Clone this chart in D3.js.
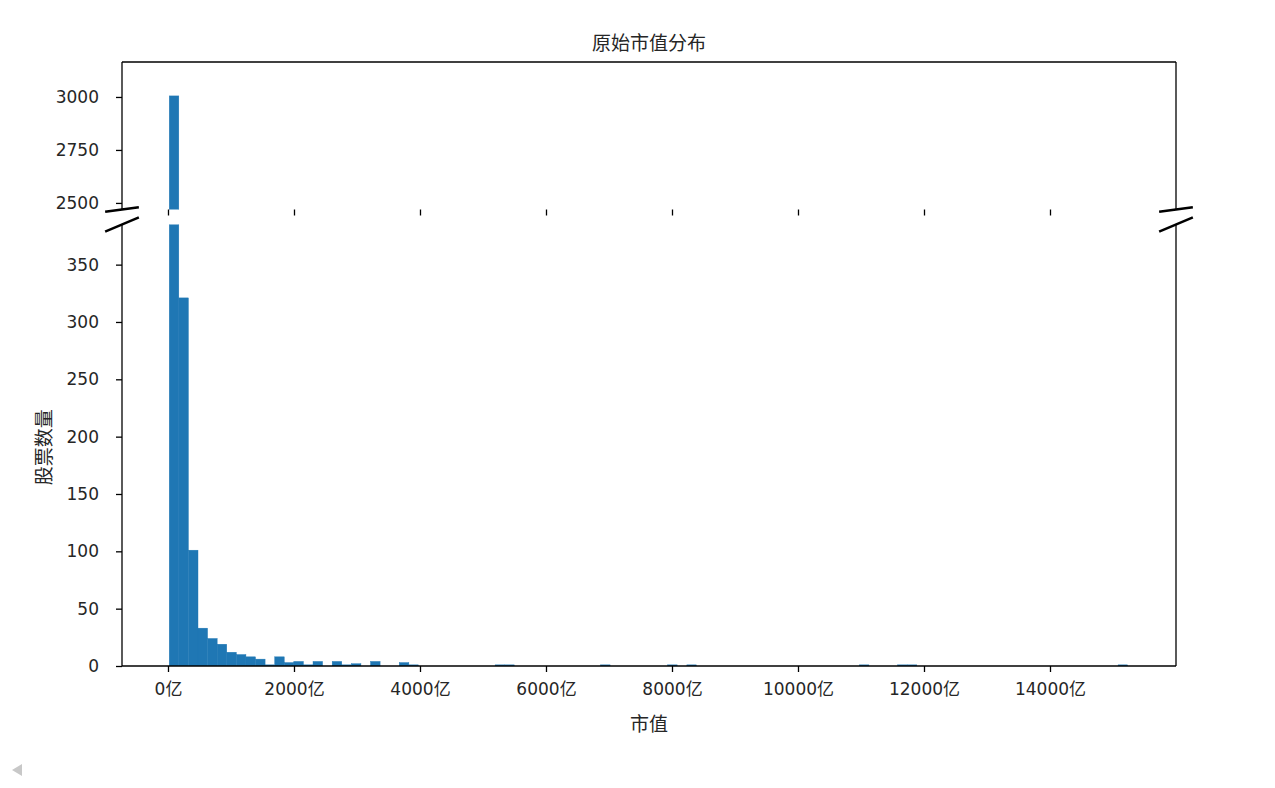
<!DOCTYPE html>
<html>
<head>
<meta charset="utf-8">
<script src="https://cdn.jsdelivr.net/npm/d3@7"></script>
<style>
  html, body { margin: 0; padding: 0; background: #fff; }
  svg text { font-family: "DejaVu Sans", "Noto Sans CJK SC", sans-serif; fill: #262626; }
</style>
</head>
<body>
<svg id="chart" width="1275" height="788"></svg>
<script>
// ---- data ----
const title = "原始市值分布";
const xLabel = "市值";
const yLabel = "股票数量";
const minValue = 20;       // 亿, left edge of first bin
const maxValue = 15233;    // 亿, right edge of last bin
const binCounts = [
  3005, 321, 101, 33, 24, 19, 12, 10, 8, 6,
  1, 8, 3, 4, 1, 4, 0, 4, 1, 2,
  0, 4, 0, 0, 3, 1, 0, 0, 0, 0,
  0, 0, 0, 0, 1, 1, 0, 0, 0, 0,
  0, 0, 0, 0, 0, 1, 0, 0, 0, 0,
  0, 0, 1, 0, 1, 0, 0, 0, 0, 0,
  0, 0, 0, 0, 0, 0, 0, 0, 0, 0,
  0, 0, 1, 0, 0, 0, 1, 1, 0, 0,
  0, 0, 0, 0, 0, 0, 0, 0, 0, 0,
  0, 0, 0, 0, 0, 0, 0, 0, 0, 1
];
const xTickValues = [0, 2000, 4000, 6000, 8000, 10000, 12000, 14000];
const xTickLabels = ["0亿", "2000亿", "4000亿", "6000亿", "8000亿", "10000亿", "12000亿", "14000亿"];
const yTopTicks = [2500, 2750, 3000];
const yBottomTicks = [0, 50, 100, 150, 200, 250, 300, 350];

// ---- layout ----
const svg = d3.select("#chart");
const left = 122, right = 1176;
const topY0 = 62, topY1 = 209.5;
const botY0 = 224.5, botY1 = 666;
const barColor = "#1f77b4";

const nb = binCounts.length;
const bw = (maxValue - minValue) / nb;
const bins = binCounts.map((c, i) => ({ x0: minValue + i * bw, x1: minValue + (i + 1) * bw, c }));

const x = d3.scaleLinear().domain([-730, 16000]).range([left, right]);
const yTop = d3.scaleLinear().domain([2469, 3165]).range([topY1, topY0]);
const yBot = d3.scaleLinear().domain([0, 385]).range([botY1, botY0]);

const defs = svg.append("defs");
defs.append("clipPath").attr("id", "clipTop").append("rect")
  .attr("x", left).attr("y", topY0).attr("width", right - left).attr("height", topY1 - topY0);
defs.append("clipPath").attr("id", "clipBot").append("rect")
  .attr("x", left).attr("y", botY0).attr("width", right - left).attr("height", botY1 - botY0);

// bars
function drawBars(g, y, y0) {
  g.selectAll("rect").data(bins.filter(d => d.c > 0)).join("rect")
    .attr("x", d => x(d.x0))
    .attr("width", d => x(d.x1) - x(d.x0))
    .attr("y", d => y(d.c))
    .attr("height", d => Math.max(0, y0 - y(d.c)))
    .attr("fill", barColor)
    .attr("stroke", barColor)
    .attr("stroke-width", 0.4);
}
drawBars(svg.append("g").attr("clip-path", "url(#clipTop)"), yTop, yTop(yTop.domain()[0]) + 5);
drawBars(svg.append("g").attr("clip-path", "url(#clipBot)"), yBot, yBot(0));

const tickFont = "17px";

// top panel axes
const gTopY = svg.append("g").attr("transform", `translate(${left},0)`)
  .call(d3.axisLeft(yTop).tickValues(yTopTicks).tickSize(6).tickPadding(17).tickFormat(d3.format("d")));
const gTopX = svg.append("g").attr("transform", `translate(0,${topY1})`)
  .call(d3.axisBottom(x).tickValues(xTickValues).tickSize(6).tickFormat(""));

// bottom panel axes
const gBotY = svg.append("g").attr("transform", `translate(${left},0)`)
  .call(d3.axisLeft(yBot).tickValues(yBottomTicks).tickSize(6).tickPadding(17).tickFormat(d3.format("d")));
const gBotX = svg.append("g").attr("transform", `translate(0,${botY1})`)
  .call(d3.axisBottom(x).tickValues(xTickValues).tickSize(6).tickPadding(11).tickFormat((d, i) => xTickLabels[i]));

[gTopY, gTopX, gBotY, gBotX].forEach(g => {
  g.selectAll(".domain").remove();
  g.selectAll(".tick line").attr("stroke", "#000").attr("stroke-width", 1.3);
  g.selectAll(".tick text").attr("font-size", tickFont).attr("fill", "#262626")
    .attr("font-family", '"DejaVu Sans", "Noto Sans CJK SC", sans-serif');
});

// spines
function line(x1, y1, x2, y2) {
  svg.append("line").attr("x1", x1).attr("y1", y1).attr("x2", x2).attr("y2", y2)
    .attr("stroke", "#000").attr("stroke-width", 1.3);
}
line(left, topY0, right, topY0);
line(left, topY0, left, topY1);
line(right, topY0, right, topY1);
line(left, botY0, left, botY1);
line(right, botY0, right, botY1);
line(left, botY1, right, botY1);

// break marks
const dTop = 0.016;
function brk(cx, cy, hw, hh) {
  svg.append("line").attr("x1", cx - hw).attr("y1", cy + hh).attr("x2", cx + hw).attr("y2", cy - hh)
    .attr("stroke", "#000").attr("stroke-width", 2.5);
}
const W = right - left;
brk(left, topY1, dTop * W, dTop * (topY1 - topY0));
brk(right, topY1, dTop * W, dTop * (topY1 - topY0));
brk(left, botY0, dTop * W, dTop * (botY1 - botY0));
brk(right, botY0, dTop * W, dTop * (botY1 - botY0));

// title & labels
svg.append("text").attr("x", (left + right) / 2).attr("y", 50).attr("text-anchor", "middle")
  .attr("font-size", "19px").text(title);
svg.append("text").attr("x", (left + right) / 2).attr("y", 731).attr("text-anchor", "middle")
  .attr("font-size", "19px").text(xLabel);
svg.append("text").attr("transform", `translate(51,${(botY0 + botY1) / 2 + 2}) rotate(-90)`)
  .attr("text-anchor", "middle").attr("font-size", "19px").text(yLabel);

// small scroll marker at bottom-left
svg.append("path").attr("d", "M12,770 L22,764 L22,776 Z").attr("fill", "#c8c8c8");
</script>
</body>
</html>
